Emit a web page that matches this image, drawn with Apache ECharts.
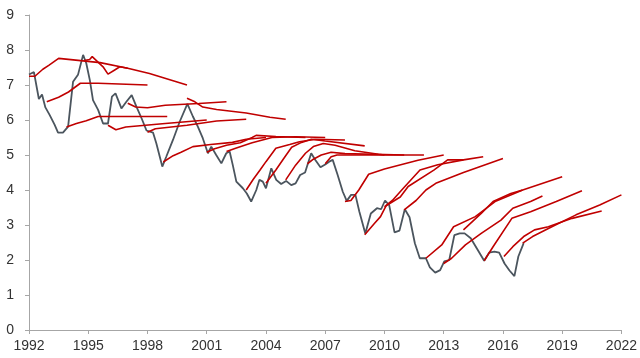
<!DOCTYPE html>
<html>
<head>
<meta charset="utf-8">
<script src="https://cdn.jsdelivr.net/npm/echarts@6/dist/echarts.min.js"></script>
<style>html,body{margin:0;padding:0;background:#fff;}#c{width:640px;height:358px;}</style>
</head>
<body>
<div id="c"></div>
<script>
// Actual series (year, value)
const actualYears = [1992.0,1992.25,1992.5,1992.66,1992.83,1993.05,1993.3,1993.47,1993.72,1993.98,1994.23,1994.48,1994.74,1994.9,1995.08,1995.24,1995.5,1995.75,1996.0,1996.2,1996.38,1996.68,1996.93,1997.2,1997.44,1997.7,1997.95,1998.28,1998.45,1998.75,1998.95,1999.29,1999.63,2000.02,2000.3,2000.55,2000.8,2001.06,2001.23,2001.48,2001.74,2001.99,2002.16,2002.32,2002.5,2002.83,2003.03,2003.25,2003.51,2003.67,2003.84,2004.0,2004.27,2004.52,2004.77,2005.02,2005.28,2005.5,2005.73,2005.98,2006.29,2006.5,2006.76,2007.0,2007.2,2007.38,2007.63,2007.89,2008.09,2008.31,2008.53,2008.73,2009.03,2009.31,2009.62,2009.83,2010.03,2010.24,2010.51,2010.76,2011.03,2011.27,2011.54,2011.79,2012.1,2012.3,2012.57,2012.82,2013.03,2013.28,2013.54,2013.81,2014.06,2014.37,2014.68,2015.05,2015.3,2015.57,2015.81,2016.08,2016.33,2016.58,2016.78,2017.05];
const actualValues = [7.3,7.37,6.6,6.73,6.36,6.14,5.86,5.64,5.64,5.81,7.09,7.29,7.86,7.62,7.14,6.57,6.29,5.9,5.9,6.67,6.76,6.33,6.52,6.71,6.38,6.05,5.7,5.64,5.33,4.67,4.95,5.43,5.95,6.46,6.1,5.81,5.48,5.05,5.24,5.0,4.76,5.05,5.1,4.71,4.24,4.05,3.9,3.67,4.0,4.29,4.24,4.05,4.62,4.29,4.17,4.26,4.14,4.19,4.43,4.5,5.05,4.86,4.65,4.73,4.81,4.86,4.43,3.95,3.69,3.86,3.86,3.38,2.76,3.33,3.48,3.45,3.7,3.57,2.79,2.84,3.45,3.22,2.48,2.05,2.05,1.79,1.64,1.71,1.96,2.0,2.71,2.76,2.76,2.62,2.33,1.98,2.21,2.24,2.21,1.9,1.7,1.54,2.1,2.48];

// Forecast paths ([year, value])
const f1992 = [[1992.0,7.25],[1992.3,7.25],[1992.7,7.45],[1993.0,7.56],[1993.5,7.76],[1995.6,7.64],[1997.0,7.48],[1998.1,7.33],[2000.0,7.0]];
const f1993 = [[1992.9,6.52],[1993.5,6.65],[1994.0,6.8],[1994.6,7.05],[1995.5,7.05],[1998.0,7.0]];
const f1994 = [[1993.9,5.8],[1994.4,5.9],[1994.9,5.98],[1995.5,6.1],[1999.0,6.1]];
const f1995 = [[1994.8,7.7],[1995.07,7.73],[1995.2,7.81],[1995.75,7.52],[1996.0,7.31],[1996.34,7.43],[1996.6,7.52],[1997.0,7.48]];
const f1996 = [[1996.0,5.85],[1996.4,5.72],[1996.9,5.8],[1998.9,5.9],[2001.0,6.0]];
const f1997 = [[1997.0,6.48],[1997.4,6.37],[1998.0,6.35],[1998.9,6.42],[2000.6,6.47],[2002.0,6.52]];
const f1998 = [[1998.0,5.65],[1998.4,5.75],[2000.0,5.85],[2001.5,5.97],[2003.0,6.02]];
const f1999 = [[1998.8,4.8],[1999.3,4.98],[1999.7,5.08],[2000.3,5.24],[2001.2,5.3],[2002.3,5.36],[2003.0,5.45],[2004.0,5.5]];
const f2000 = [[2000.0,6.62],[2000.4,6.52],[2000.8,6.37],[2001.5,6.3],[2003.0,6.2],[2004.2,6.08],[2005.0,6.02]];
const f2001 = [[2001.0,5.08],[2001.4,5.18],[2002.0,5.28],[2002.7,5.35],[2003.3,5.5],[2003.5,5.56],[2004.5,5.53],[2006.0,5.5]];
const f2002 = [[2002.0,5.1],[2002.5,5.2],[2003.3,5.35],[2004.3,5.5],[2005.5,5.52],[2007.0,5.5]];
const f2003 = [[2003.0,4.0],[2003.35,4.3],[2003.7,4.57],[2004.0,4.81],[2004.5,5.19],[2005.2,5.3],[2005.7,5.38],[2006.5,5.45],[2008.0,5.43]];
const f2004 = [[2004.0,4.19],[2004.5,4.57],[2004.9,4.9],[2005.3,5.22],[2005.8,5.36],[2006.3,5.45],[2007.0,5.4],[2009.0,5.26]];
const f2005 = [[2005.0,4.29],[2005.5,4.71],[2006.0,5.05],[2006.4,5.24],[2006.9,5.33],[2007.5,5.28],[2008.5,5.12],[2009.7,5.02],[2010.0,5.0]];
const f2006 = [[2006.1,4.75],[2006.4,4.88],[2006.8,5.0],[2007.3,5.08],[2008.0,5.04],[2011.0,5.0]];
const f2007 = [[2007.0,4.75],[2007.3,4.95],[2007.6,5.0],[2012.0,5.0]];
const f2008 = [[2008.0,3.67],[2008.3,3.7],[2008.7,4.0],[2009.2,4.45],[2010.0,4.6],[2011.7,4.85],[2013.0,5.0]];
const f2009 = [[2009.0,2.72],[2009.5,3.05],[2009.8,3.24],[2010.1,3.57],[2010.4,3.7],[2011.0,4.08],[2011.8,4.57],[2012.7,4.72],[2014.0,4.86],[2015.0,4.95]];
const f2010 = [[2010.0,3.52],[2010.8,3.8],[2011.2,4.1],[2012.5,4.57],[2013.2,4.86],[2014.0,4.86]];
const f2011 = [[2011.0,3.43],[2011.6,3.7],[2012.1,4.0],[2012.6,4.19],[2014.0,4.5],[2016.0,4.9]];
const f2012 = [[2012.1,2.05],[2012.9,2.43],[2013.5,2.95],[2014.6,3.24],[2015.6,3.67],[2017.0,4.0]];
const f2013 = [[2013.0,1.9],[2013.4,2.05],[2014.1,2.43],[2014.9,2.76],[2015.9,3.14],[2016.5,3.48],[2017.4,3.67],[2018.0,3.83]];
const f2014 = [[2014.0,2.86],[2014.9,3.33],[2015.5,3.67],[2016.4,3.9],[2017.0,4.0],[2019.0,4.38]];
const f2015 = [[2015.05,1.98],[2015.5,2.38],[2016.45,3.19],[2017.4,3.38],[2018.7,3.67],[2020.0,3.98]];
const f2016 = [[2016.05,2.1],[2016.5,2.38],[2017.05,2.67],[2017.6,2.86],[2018.3,2.95],[2019.5,3.19],[2021.0,3.4]];
const f2017 = [[2017.0,2.48],[2017.5,2.67],[2018.3,2.9],[2019.7,3.29],[2020.9,3.57],[2022.0,3.86]];
const forecasts = [f1992,f1993,f1994,f1995,f1996,f1997,f1998,f1999,f2000,f2001,f2002,f2003,f2004,f2005,f2006,f2007,f2008,f2009,f2010,f2011,f2012,f2013,f2014,f2015,f2016,f2017];

const yTicks = [0,1,2,3,4,5,6,7,8,9];
const xTickStep = 3;

const chart = echarts.init(document.getElementById('c'), null, {renderer:'canvas'});
const series = [];
forecasts.forEach(function(f){
  series.push({type:'line', data:f, showSymbol:false, symbol:'none', smooth:false,
    lineStyle:{color:'#c00000', width:1.6}, z:3, silent:true});
});
series.push({type:'line', data: actualYears.map(function(y,i){return [y, actualValues[i]];}),
  showSymbol:false, symbol:'none', lineStyle:{color:'#4b555e', width:1.8}, z:2, silent:true});

chart.setOption({
  animation:false,
  grid:{left:29, right:18, top:15, bottom:28, containLabel:false},
  xAxis:{type:'value', min:1992, max:2022, interval:xTickStep,
    axisLine:{show:true, lineStyle:{color:'#a6a6a6', width:1}},
    axisTick:{show:true, length:4, lineStyle:{color:'#a6a6a6'}},
    splitLine:{show:false},
    axisLabel:{color:'#333', fontFamily:'Liberation Sans, Arial', fontSize:14, margin:9, formatter:function(v){return String(Math.round(v));}}},
  yAxis:{type:'value', min:yTicks[0], max:yTicks[yTicks.length-1], interval:1,
    axisLine:{show:true, lineStyle:{color:'#a6a6a6', width:1}},
    axisTick:{show:true, length:4, lineStyle:{color:'#a6a6a6'}},
    splitLine:{show:false},
    axisLabel:{color:'#333', fontFamily:'Liberation Sans, Arial', fontSize:14, margin:15}},
  series:series
});
</script>
</body>
</html>
